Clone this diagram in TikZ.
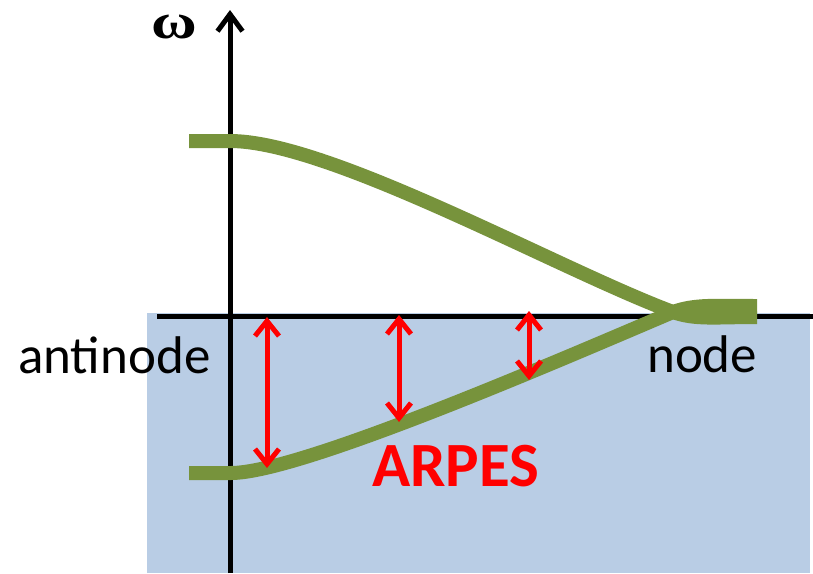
\documentclass[tikz,border=0pt]{standalone}
\usepackage{fontspec}
\usepackage{graphicx}
\newfontfamily\carlito{Carlito}
\newfontfamily\timesf{Liberation Serif}
\usetikzlibrary{arrows.meta}
\definecolor{bandgreen}{HTML}{77933C}
\definecolor{seablue}{HTML}{B9CDE5}
\definecolor{arrred}{HTML}{FF0000}
\tikzset{
  axisline/.style={line width=5pt, black},
  band/.style={line width=14pt, bandgreen, line cap=butt},
  probe/.style={line width=5pt, arrred, {Straight Barb[length=15pt,width=24pt]}-{Straight Barb[length=15pt,width=24pt]}},
  lbl/.style={font=\carlito\fontsize{53}{53}\selectfont, anchor=base west, inner sep=0pt},
}
\begin{document}
\begin{tikzpicture}[x=1pt,y=-1pt]
\useasboundingbox (0,0) rectangle (813,573);
\fill[seablue] (147,313) rectangle (810,573);
% axes
\coordinate (ybot) at (230,573);
\coordinate (ytop) at (230,10);
\coordinate (xl) at (157,316);
\coordinate (xr) at (813,316);
\draw[axisline] (xl) -- (xr);
\draw[axisline, -{Straight Barb[length=17pt,width=25pt]}] (ybot) -- (ytop);
% bands
\coordinate (u0) at (189,141);
\coordinate (l0) at (189,473);
\coordinate (cross) at (673,312);
\coordinate (uend) at (757,317);
\coordinate (lend) at (757,306);
\draw[band] (u0) -- (230,141) .. controls (330,141) and (560,270) .. (cross)
  .. controls (695,320) and (715,317) .. (uend);
\draw[band] (l0) -- (231,473) .. controls (300,473) and (560,360) .. (cross)
  .. controls (695,304) and (715,306) .. (lend);
% ARPES arrows
\coordinate (a1t) at (267,317);
\coordinate (a1b) at (267,468);
\coordinate (a2t) at (399,315);
\coordinate (a2b) at (399,422);
\coordinate (a3t) at (529,311);
\coordinate (a3b) at (529,380);
\draw[probe] (a1t) -- (a1b);
\draw[probe] (a2t) -- (a2b);
\draw[probe] (a3t) -- (a3b);
% labels
\node[lbl] (anti) at (18,373) {antinode};
\node[lbl] (nd) at (647,372) {node};
\node[anchor=base west, inner sep=0pt, text=arrred, font=\carlito\bfseries\fontsize{63}{63}\selectfont] (arpes) at (372,486) {ARPES};
\node[font=\timesf\bfseries\fontsize{50}{50}\selectfont, inner sep=0pt, anchor=base] (omega) at (174,38) {\scalebox{1.25}[1]{ω}};
\end{tikzpicture}
\end{document}
